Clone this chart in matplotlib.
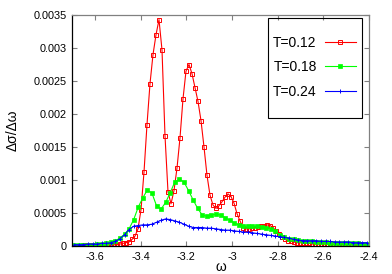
#!/usr/bin/env python3
"""Optical conductivity increments vs frequency at three temperatures."""
import matplotlib

matplotlib.use("Agg")
import matplotlib.pyplot as plt
import numpy as np
from matplotlib.patches import Rectangle
from matplotlib.ticker import FormatStrFormatter, MultipleLocator

plt.rcParams["font.family"] = ["Liberation Sans", "DejaVu Sans"]

# ── data ─────────────────────────────────────
LABELS = ["T=0.12", "T=0.18", "T=0.24"]

# frequency grids (T=0.12 is sampled more finely)
omega_fine = np.linspace(-3.7, -2.4, 100)
omega_coarse = np.round(-3.69 + 0.02 * np.arange(65), 4)

sigma_012 = [
    0.0, 0.0, 0.0, 0.0, 0.00001, 0.00001, 0.00001, 0.00001, 0.00001, 0.00001,
    0.00001, 0.00001, 0.00002, 0.00002, 0.00002, 0.00002, 0.00003, 0.00004, 0.00005, 0.00006,
    0.00010, 0.00015, 0.00026, 0.00055, 0.00112, 0.00184, 0.00246, 0.00290, 0.00320, 0.00343,
    0.00297, 0.00167, 0.00082, 0.00064, 0.00084, 0.00118, 0.00164, 0.00223, 0.00265, 0.00275,
    0.00261, 0.00240, 0.00219, 0.00190, 0.00150, 0.00107, 0.00077, 0.00062, 0.00057, 0.00061,
    0.00067, 0.00074, 0.00079, 0.00075, 0.00065, 0.00049, 0.00038, 0.00028, 0.00026, 0.00026,
    0.00027, 0.00028, 0.00029, 0.00030, 0.00031, 0.00032, 0.00031, 0.00028, 0.00023, 0.00018,
    0.00013, 0.00010, 0.00008, 0.00007, 0.00006, 0.00005, 0.00005, 0.00004, 0.00004, 0.00004,
    0.00003, 0.00003, 0.00003, 0.00003, 0.00003, 0.00003, 0.00003, 0.00003, 0.00002, 0.00002,
    0.00002, 0.00002, 0.00002, 0.00002, 0.00001, 0.00001, 0.00001, 0.00001, 0.00001, 0.00001,
]

sigma_018 = [
    0.00001, 0.00001, 0.00001, 0.00002, 0.00002, 0.00003, 0.00003, 0.00004, 0.00006, 0.00008,
    0.00012, 0.00018, 0.00026, 0.00040, 0.00059, 0.00073, 0.00085, 0.00080, 0.00061, 0.00056,
    0.00066, 0.00081, 0.00097, 0.00101, 0.00097, 0.00084, 0.00070, 0.00057, 0.00047, 0.00045,
    0.00047, 0.00048, 0.00047, 0.00043, 0.00039, 0.00035, 0.00032, 0.00030, 0.00030, 0.00030,
    0.00030, 0.00029, 0.00028, 0.00026, 0.00022, 0.00017, 0.00013, 0.00011, 0.00010, 0.00009,
    0.00008, 0.00007, 0.00007, 0.00006, 0.00006, 0.00006, 0.00005, 0.00005, 0.00005, 0.00004,
    0.00004, 0.00004, 0.00004, 0.00003, 0.00003,
]

sigma_024 = [
    0.00002, 0.00002, 0.00002, 0.00003, 0.00003, 0.00003, 0.00004, 0.00004, 0.00005, 0.00007,
    0.00011, 0.00017, 0.00025, 0.00030, 0.00031, 0.00032, 0.00032, 0.00033, 0.00036, 0.00039,
    0.00041, 0.00040, 0.00038, 0.00036, 0.00033, 0.00030, 0.00028, 0.00028, 0.00028, 0.00027,
    0.00027, 0.00026, 0.00025, 0.00024, 0.00024, 0.00023, 0.00022, 0.00021, 0.00021, 0.00020,
    0.00019, 0.00018, 0.00017, 0.00016, 0.00015, 0.00014, 0.00013, 0.00012, 0.00010, 0.00009,
    0.00008, 0.00008, 0.00008, 0.00008, 0.00007, 0.00007, 0.00007, 0.00006, 0.00006, 0.00006,
    0.00006, 0.00005, 0.00005, 0.00005, 0.00005,
]

# ── figure ───────────────────────────────────
fig = plt.figure(figsize=(3.92, 2.74), dpi=100)
ax = fig.add_axes([72 / 392, 1 - 246 / 274, 297 / 392, 231 / 274])

ax.plot(omega_fine, sigma_012, color="#ff0000", lw=0.8, marker="s", ms=3.0,
        mfc="none", mew=0.7, label=LABELS[0])
ax.plot(omega_coarse, sigma_018, color="#00ff00", lw=0.8, marker="s", ms=2.2,
        mew=0.5, label=LABELS[1])
ax.plot(omega_coarse, sigma_024, color="#0000ff", lw=0.8, marker="+", ms=3.5,
        mew=0.7, label=LABELS[2])

ax.set_xlim(-3.7, -2.4)
ax.set_ylim(0, 0.0035)
ax.set_xticks(np.arange(-3.6, -2.39, 0.2))
ax.xaxis.set_major_formatter(FormatStrFormatter("%g"))
ax.yaxis.set_major_locator(MultipleLocator(0.0005))
ax.yaxis.set_major_formatter(FormatStrFormatter("%g"))
ax.tick_params(direction="in", length=3.5, width=0.8, color="#808080",
               top=True, right=True, labelsize=7.8, pad=4)

for side in ("left", "bottom"):
    ax.spines[side].set_color("black")
    ax.spines[side].set_linewidth(0.9)
for side in ("top", "right"):
    ax.spines[side].set_color("#808080")
    ax.spines[side].set_linewidth(0.9)

ax.set_xlabel("ω", fontsize=10, labelpad=-1)
ax.set_ylabel("Δσ/Δω", fontsize=10, labelpad=10)

# gnuplot style key: text first, sample on the right, plain box
leg = ax.legend(loc="upper right", bbox_to_anchor=(0.955, 0.91),
                markerfirst=False, frameon=False, fontsize=10,
                handlelength=2.2, handletextpad=0.6, labelspacing=0.75,
                borderpad=0.0, borderaxespad=0.0)
ax.add_patch(Rectangle((0.66, 0.554), 0.316, 0.433, transform=ax.transAxes,
                       fill=False, edgecolor="black", lw=0.8, zorder=5))

fig.savefig("out.png", dpi=100)
